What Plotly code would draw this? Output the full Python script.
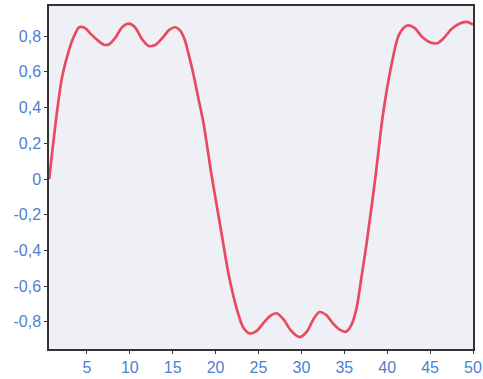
import plotly.graph_objects as go

# Curve values
x_vals = [0.6, 1.0, 1.55, 2.1, 2.9, 3.5, 4.1, 4.8, 5.5, 6.3, 7.0, 7.6, 8.3, 9.1, 9.9,
          10.6, 11.4, 12.2, 13.0, 13.8, 14.6, 15.3, 15.9, 16.4, 16.9, 17.4, 18.0, 18.6,
          19.5, 20.5, 21.5, 22.1, 22.6, 23.2, 24.0, 24.8, 25.6, 26.4, 27.1, 27.9, 28.8,
          29.8, 30.7, 31.4, 32.1, 32.9, 33.7, 34.5, 35.2, 35.8, 36.4, 37.0, 37.6, 38.6,
          39.5, 40.5, 41.3, 42.0, 42.5, 43.2, 44.0, 44.9, 45.8, 46.6, 47.5, 48.4, 49.3, 50.0]
y_vals = [0.0, 0.17, 0.39, 0.57, 0.72, 0.80, 0.85, 0.845, 0.81, 0.775, 0.752, 0.755, 0.79, 0.85, 0.87,
          0.85, 0.785, 0.745, 0.752, 0.79, 0.835, 0.85, 0.83, 0.78, 0.69, 0.59, 0.45, 0.31,
          0.03, -0.25, -0.53, -0.66, -0.75, -0.83, -0.865, -0.85, -0.805, -0.765, -0.752, -0.785, -0.85,
          -0.885, -0.85, -0.785, -0.745, -0.762, -0.81, -0.845, -0.855, -0.82, -0.73, -0.55, -0.36, 0.0,
          0.36, 0.64, 0.80, 0.85, 0.86, 0.845, 0.80, 0.768, 0.76, 0.79, 0.84, 0.87, 0.88, 0.865]

x_ticks = [5, 10, 15, 20, 25, 30, 35, 40, 45, 50]
y_ticks = [0.8, 0.6, 0.4, 0.2, 0, -0.2, -0.4, -0.6, -0.8]
y_tick_text = ["0,8", "0,6", "0,4", "0,2", "0", "-0,2", "-0,4", "-0,6", "-0,8"]

fig = go.Figure()
fig.add_trace(go.Scatter(
    x=x_vals, y=y_vals, mode="lines",
    line=dict(color="#e84a60", width=2.7, shape="spline", smoothing=0.8),
    showlegend=False, hoverinfo="skip",
))

label_font = dict(family="Liberation Sans, Arial, sans-serif", size=16, color="#4d7fcf")

fig.update_layout(
    width=483, height=379,
    margin=dict(l=49, r=10, t=6, b=30),
    paper_bgcolor="white",
    plot_bgcolor="#eef0f6",
    xaxis=dict(
        range=[0.58, 50], tickvals=x_ticks, ticktext=[str(t) for t in x_ticks],
        showgrid=False, zeroline=False, showline=True, mirror=True,
        linecolor="#333333", linewidth=1.5, automargin=False,
        ticks="outside", ticklen=3, tickcolor="#333333", tickfont=label_font,
    ),
    yaxis=dict(
        range=[-0.952, 0.969], tickvals=y_ticks, ticktext=y_tick_text,
        showgrid=False, zeroline=False, showline=True, mirror=True,
        linecolor="#333333", linewidth=1.5, automargin=False,
        ticks="outside", ticklen=3, tickcolor="#333333", tickfont=label_font,
    ),
)

fig.write_html("out.html", config={"displayModeBar": False},
               post_script="document.body.style.margin='0';document.body.style.overflow='hidden';")
